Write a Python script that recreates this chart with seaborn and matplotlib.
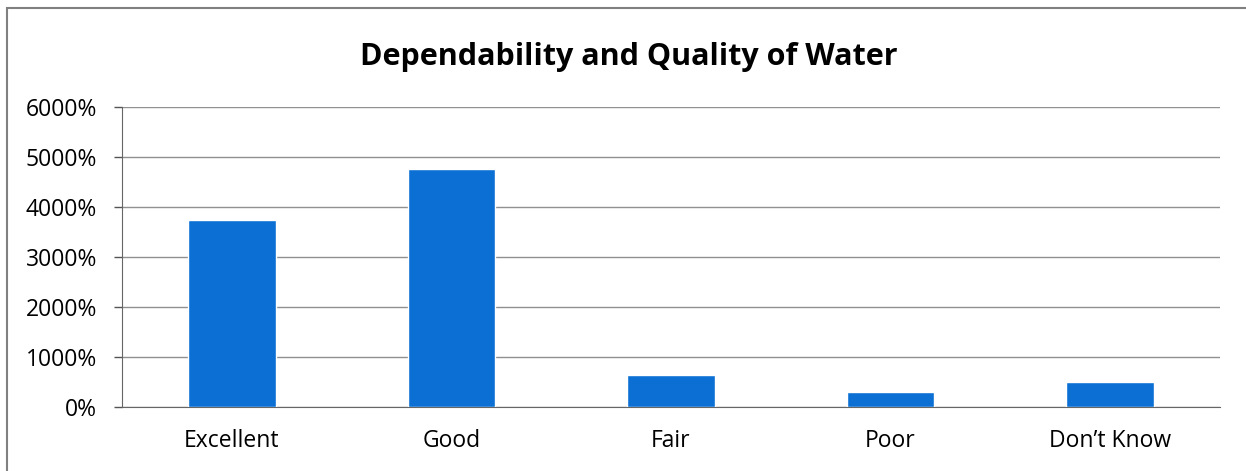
import numpy as np
import pandas as pd
import matplotlib
matplotlib.use("Agg")
import matplotlib.pyplot as plt
import seaborn as sns
from matplotlib.patches import Rectangle
from matplotlib.ticker import FuncFormatter

categories = ["Excellent", "Good", "Fair", "Poor", "Don\u2019t Know"]
values = [3740, 4760, 640, 300, 500]

df = pd.DataFrame({"rating": categories, "pct": values})

sns.set_style("white")
plt.rcParams["font.family"] = ["Open Sans", "DejaVu Sans"]
plt.rcParams["text.color"] = "black"
plt.rcParams["xtick.color"] = "black"
plt.rcParams["ytick.color"] = "black"

fig = plt.figure(figsize=(12.46, 4.71), dpi=100)
ax = fig.add_axes([0.098, 0.136, 0.881, 0.637])

sns.barplot(data=df, x="rating", y="pct", color="#0B6FD3", width=0.4,
            saturation=1, ax=ax, zorder=3)

ax.set_ylim(0, 6000)
ax.set_xlim(-0.5, len(categories) - 0.5)
ax.set_yticks(np.arange(0, 6001, 1000))
ax.yaxis.set_major_formatter(FuncFormatter(lambda v, p: f"{int(v)}%"))
ax.yaxis.grid(True, color="#909090", linewidth=1, zorder=0)
ax.set_xlabel("")
ax.set_ylabel("")

# category boundary ticks
ax.set_xticks(np.arange(-0.5, len(categories), 1), minor=True)
ax.tick_params(axis="x", which="minor", length=8, width=1, color="#555555", direction="out")
ax.tick_params(axis="x", which="major", length=0, labelsize=16.5, pad=16)
ax.tick_params(axis="y", length=6, width=1, color="#555555", direction="out", left=True,
               labelsize=16.5, pad=12)

for s in ["top", "right"]:
    ax.spines[s].set_visible(False)
ax.spines["left"].set_color("#666666")
ax.spines["bottom"].set_color("#666666")

fig.text(0.505, 0.878, "Dependability and Quality of Water", ha="center", va="center",
         fontsize=22, fontweight="bold")

fig.patches.append(Rectangle((0.0058, -0.05), 1.0, 1.033, transform=fig.transFigure,
                             fill=False, edgecolor="#808080", linewidth=1.5))

fig.savefig("out.png", dpi=100)
